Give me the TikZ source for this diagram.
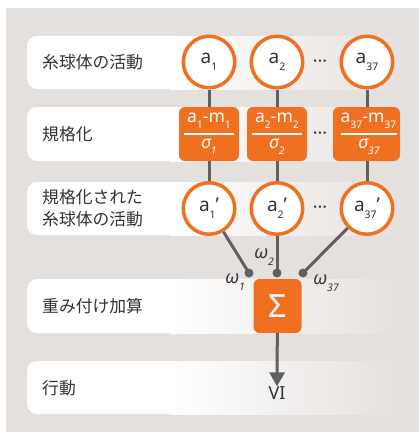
\documentclass[tikz,border=0pt]{standalone}
\usepackage{fontspec}
\setmainfont{Noto Sans}
\newfontfamily\jpfont{Noto Sans CJK JP}
\usetikzlibrary{arrows.meta}
\definecolor{panel}{HTML}{E4E0DD}
\definecolor{org}{HTML}{F07022}
\definecolor{lnc}{HTML}{606060}
\definecolor{txt}{HTML}{333333}
\newcommand\lo[1]{\raisebox{-0.36em}{\fontsize{10.5}{10.5}\selectfont #1}}
\newcommand\pr{\char"27}
\begin{document}
\begin{tikzpicture}[x=1pt,y=-1pt,
  circ/.style={circle,draw=org,line width=3.5pt,fill=white,minimum size=51.5pt,inner sep=0pt,
    font=\fontsize{19}{19}\selectfont,text=txt},
  obox/.style={rectangle,rounded corners=6pt,fill=org,minimum height=54pt,inner sep=0pt},
  wt/.style={text=white,font=\fontsize{17.5}{17.5}\selectfont,inner sep=0pt,anchor=base},
  lbl/.style={anchor=west,font=\jpfont\fontsize{16.8}{22}\selectfont,text=txt,inner sep=0pt,align=left},
  conn/.style={draw=lnc,line width=3pt},
  wdot/.style={circle,fill=lnc,minimum size=9pt,inner sep=0pt},
  dts/.style={text=txt,font=\fontsize{18}{18}\selectfont,inner sep=0pt,anchor=base},
  wl/.style={text=txt,font=\itshape\fontsize{18}{18}\selectfont,inner sep=0pt},
  frule/.style={draw=white,line width=1.5pt}
]
\useasboundingbox (0,0) rectangle (419,432);
\fill[panel] (6,8) rectangle (419,432);
\foreach \ya/\yb in {36/89,107/161,182/235,279/333,361/414}{
  \fill[white,rounded corners=10pt] (27,\ya) rectangle (180,\yb);
  \shade[left color=white,right color=panel] (170,\ya) rectangle (405,\yb);
}
% labels
\node[lbl] (l1) at (42,62) {糸球体の活動};
\node[lbl] (l2) at (42,134) {規格化};
\node[lbl] (l3) at (42,208.5) {規格化された\\糸球体の活動};
\node[lbl] (l4) at (42,306) {重み付け加算};
\node[lbl] (l5) at (42,388) {行動};
% row 1
\node[circ] (a1) at (209,62) {a\lo{1}};
\node[circ] (a2) at (277,62) {a\lo{2}};
\node[circ] (a3) at (367,62) {a\lo{37}};
\node[dts] (d1) at (320,67.5) {···};
% row 2
\node[obox,minimum width=60pt] (n1) at (209,134) {};
\node[obox,minimum width=60pt] (n2) at (277,134) {};
\node[obox,minimum width=67pt] (n3) at (366.5,134) {};
\node[dts] (d2) at (320,139.5) {···};
\node[wt] (t1) at (209,122) {a\lo{1}-m\lo{1}};
\node[wt] (b1) at (209,148) {\itshape σ\lo{1}};
\node[wt] (t2) at (277,122) {a\lo{2}-m\lo{2}};
\node[wt] (b2) at (277,148) {\itshape σ\lo{2}};
\node[wt] (t3) at (368.5,122) {a\lo{37}-m\lo{37}};
\node[wt] (b3) at (369,148) {\itshape σ\lo{37}};
\draw[frule] ([xshift=-25pt]n1.center) -- ([xshift=25pt]n1.center);
\draw[frule] ([xshift=-25pt]n2.center) -- ([xshift=25pt]n2.center);
\draw[frule] ([xshift=-25.5pt]n3.center) -- ([xshift=30.5pt]n3.center);
% row 3
\node[circ] (c1) at (209,208.5) {a\lo{1}\pr};
\node[circ] (c2) at (277,208.5) {a\lo{2}\pr};
\node[circ] (c3) at (367,208.5) {a\lo{37}\pr};
\node[dts] (d3) at (320,213) {···};
% weights
\node[wdot] (w1) at (249,273) {};
\node[wdot] (w2) at (277,273) {};
\node[wdot] (w3) at (303,273) {};
\node[wl] (o1) at (235,282) {ω\lo{1}};
\node[wl] (o2) at (264,257) {ω\lo{2}};
\node[wl] (o3) at (326,283) {ω\lo{37}};
% sum
\node[obox,minimum width=48pt] (s) at (277.5,306) {};
\node[text=white,font=\fontsize{32}{32}\selectfont,inner sep=0pt] (sg) at (277.5,306) {Σ};
\node[text=txt,font=\fontsize{18}{18}\selectfont,inner sep=0pt] (vi) at (277,393) {VI};
% connectors
\draw[conn] (a1) -- (n1);
\draw[conn] (a2) -- (n2);
\draw[conn] (a3) -- (n3.north -| a3);
\draw[conn] (n1) -- (c1);
\draw[conn] (n2) -- (c2);
\draw[conn] (n3.south -| c3) -- (c3);
\draw[conn] (c1) -- (w1.center);
\draw[conn] (c2) -- (w2.center);
\draw[conn] (c3) -- (w3.center);
\draw[conn,-{Triangle[length=14pt,width=15pt]}] (s) -- (vi.north);
\end{tikzpicture}
\end{document}
